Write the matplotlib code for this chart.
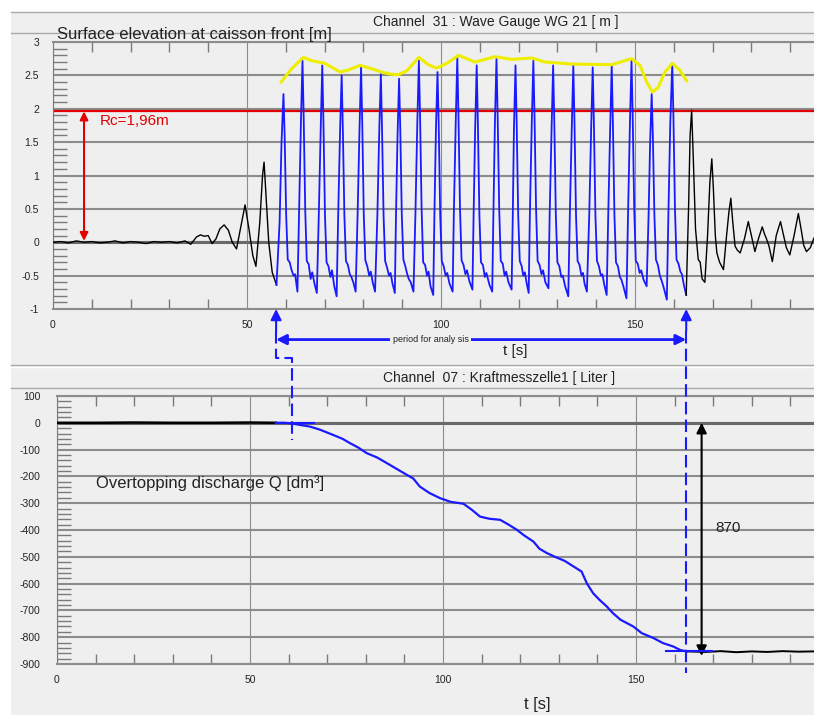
import numpy as np
import matplotlib.pyplot as plt
from matplotlib.lines import Line2D
from matplotlib.patches import Rectangle
from matplotlib.ticker import MultipleLocator, FormatStrFormatter

plt.rcParams['font.family'] = ['Liberation Sans', 'DejaVu Sans']
plt.rcParams['axes.unicode_minus'] = False

W, H = 814, 715

# Channel 31 - wave gauge WG 21, surface elevation [m]
t_pre = [0, 2, 4, 6, 8, 10, 12, 14, 16, 18, 20, 22, 24, 26, 28, 30, 32, 34,
         35.5, 37, 38, 39, 40, 41, 42, 43, 44.1, 45.2, 46.2, 47.3, 48.3,
         49.5, 50.5, 51.5, 52.3, 53.3, 54.0, 54.4, 55.0, 55.6, 56.5, 57.6]
eta_pre = [0.0, 0.01, -0.01, 0.02, 0.0, 0.01, -0.01, 0.0, 0.02, -0.01, 0.01,
           0.0, -0.02, 0.01, 0.0, 0.01, -0.01, 0.02, -0.03, 0.08, 0.11,
           0.09, 0.10, -0.02, 0.05, 0.20, 0.26, 0.18, 0.0, -0.10, 0.20,
           0.56, 0.20, -0.20, -0.36, 0.30, 1.0, 1.20, 0.60, 0.0, -0.45, -0.64]

t_wave = [
    57.6, 58.4, 58.9, 59.4, 59.7, 60.1, 60.5, 61.0, 61.5, 62.0, 62.4,
    63.0, 63.4, 63.9, 64.3, 64.6, 65.0, 65.4, 65.9, 66.4, 66.8, 67.4,
    68.0, 68.5, 69.0, 69.4, 69.7, 70.1, 70.5, 71.0, 71.5, 71.9, 72.5,
    73.1, 73.5, 74.0, 74.4, 74.7, 75.1, 75.5, 76.0, 76.5, 76.9, 77.4,
    78.0, 78.5, 79.0, 79.4, 79.7, 80.1, 80.5, 81.0, 81.5, 81.9, 82.4,
    83.0, 83.6, 84.1, 84.5, 84.8, 85.2, 85.6, 86.1, 86.6, 87.0, 87.5,
    88.1, 88.4, 88.8, 89.2, 89.5, 89.9, 90.3, 90.8, 91.3, 91.7, 92.2,
    92.9, 93.4, 93.9, 94.3, 94.6, 95.0, 95.4, 95.9, 96.4, 96.8, 97.3,
    98.0, 98.3, 98.7, 99.1, 99.4, 99.8, 100.2, 100.7, 101.2, 101.6, 102.2,
    103.0, 103.3, 103.8, 104.2, 104.5, 104.9, 105.3, 105.8, 106.3, 106.7, 107.3,
    108.1, 108.4, 108.8, 109.2, 109.5, 109.9, 110.3, 110.8, 111.3, 111.7, 112.5,
    113.2, 113.5, 113.9, 114.3, 114.6, 115.0, 115.4, 115.9, 116.4, 116.8, 117.4,
    118.2, 118.5, 118.8, 119.2, 119.5, 119.9, 120.3, 120.8, 121.2, 121.6, 122.1,
    122.6, 122.9, 123.4, 123.8, 124.1, 124.5, 124.9, 125.4, 125.9, 126.3, 126.9,
    127.7, 128.0, 128.5, 128.9, 129.2, 129.6, 130.0, 130.5, 131.0, 131.4, 132.0,
    132.8, 133.2, 133.7, 134.1, 134.4, 134.8, 135.2, 135.7, 136.2, 136.6, 137.0,
    137.6, 138.2, 138.7, 139.1, 139.4, 139.8, 140.2, 140.7, 141.2, 141.6, 142.1,
    142.7, 143.1, 143.6, 144.0, 144.3, 144.7, 145.1, 145.6, 146.1, 146.5, 147.1,
    147.8, 148.2, 148.7, 149.1, 149.4, 149.8, 150.2, 150.7, 151.2, 151.6, 152.2,
    153.0, 153.5, 153.9, 154.3, 154.6, 155.0, 155.4, 155.9, 156.4, 156.9, 157.5,
    158.2, 158.6, 159.1, 159.6, 159.9, 160.3, 160.7, 161.2, 161.7, 162.1, 162.6,
    163.2]
eta_wave = [
    -0.64, 0.3, 1.5, 2.22, 1.6, 0.4, -0.26, -0.30, -0.42, -0.50, -0.48,
    -0.74, 0.4, 1.8, 2.72, 1.9, 0.5, -0.28, -0.33, -0.55, -0.45, -0.62,
    -0.76, 0.4, 1.7, 2.65, 1.8, 0.4, -0.30, -0.36, -0.52, -0.42, -0.66,
    -0.81, 0.4, 1.7, 2.50, 1.7, 0.4, -0.28, -0.34, -0.48, -0.52, -0.60,
    -0.74, 0.4, 1.7, 2.62, 1.8, 0.4, -0.27, -0.36, -0.50, -0.44, -0.60,
    -0.74, 0.4, 1.7, 2.52, 1.7, 0.4, -0.28, -0.38, -0.50, -0.46, -0.62,
    -0.76, 0.4, 1.6, 2.45, 1.7, 0.4, -0.26, -0.36, -0.48, -0.55, -0.60,
    -0.74, 0.4, 1.8, 2.72, 1.9, 0.5, -0.30, -0.34, -0.50, -0.44, -0.66,
    -0.79, 0.4, 1.7, 2.55, 1.8, 0.4, -0.28, -0.36, -0.50, -0.46, -0.62,
    -0.74, 0.4, 1.8, 2.77, 1.9, 0.5, -0.27, -0.34, -0.48, -0.42, -0.58,
    -0.71, 0.4, 1.7, 2.65, 1.8, 0.4, -0.30, -0.34, -0.52, -0.46, -0.64,
    -0.74, 0.4, 1.8, 2.75, 1.9, 0.5, -0.28, -0.32, -0.50, -0.44, -0.60,
    -0.71, 0.4, 1.7, 2.65, 1.8, 0.4, -0.28, -0.36, -0.50, -0.45, -0.62,
    -0.76, 0.4, 1.8, 2.72, 1.9, 0.5, -0.28, -0.34, -0.48, -0.42, -0.60,
    -0.69, 0.4, 1.7, 2.65, 1.8, 0.4, -0.30, -0.36, -0.52, -0.50, -0.66,
    -0.81, 0.4, 1.7, 2.65, 1.8, 0.4, -0.28, -0.34, -0.50, -0.46, -0.62,
    -0.74, 0.4, 1.7, 2.62, 1.8, 0.4, -0.28, -0.36, -0.50, -0.48, -0.64,
    -0.79, 0.4, 1.7, 2.65, 1.8, 0.4, -0.30, -0.36, -0.52, -0.56, -0.68,
    -0.84, 0.4, 1.8, 2.72, 1.9, 0.5, -0.28, -0.32, -0.46, -0.42, -0.56,
    -0.66, 0.4, 1.5, 2.22, 1.6, 0.4, -0.26, -0.34, -0.50, -0.58, -0.70,
    -0.86, 0.4, 1.8, 2.67, 1.9, 0.5, -0.26, -0.32, -0.44, -0.48, -0.64,
    -0.79]

t_post = [163.2, 163.8, 164.2, 164.6, 165.0, 165.6, 166.3, 166.8, 167.3,
          168.0, 168.7, 169.3, 169.8, 170.2, 170.7, 171.1, 171.8, 172.8,
          173.6, 174.2, 174.7, 175.2, 175.8, 176.4, 177.1, 178.2, 179.2,
          180.0, 180.9, 181.8, 182.8, 183.4, 183.9, 184.5, 185.4, 186.4,
          187.5, 188.3, 189.0, 189.9, 191.0, 192.1, 192.8, 193.5, 194.2,
          195.2, 196.1]
eta_post = [-0.79, 0.5, 1.6, 1.98, 1.3, 0.2, -0.26, -0.30, -0.55, -0.60,
            0.1, 0.9, 1.25, 0.8, 0.1, -0.16, -0.30, -0.41, 0.1, 0.45, 0.66,
            0.3, -0.06, -0.12, -0.16, 0.05, 0.31, 0.1, -0.14, 0.05, 0.23,
            0.12, 0.05, -0.05, -0.29, 0.1, 0.31, 0.1, -0.08, -0.19, 0.1,
            0.43, 0.2, -0.05, -0.14, -0.08, 0.06]

# crest envelope over the analysed waves
t_env = [58.8, 61.5, 64.5, 66.7, 70.1, 74.0, 76.1, 79.1, 82.1, 84.7, 86.9,
         89.0, 91.2, 94.3, 96.7, 98.9, 101.5, 104.5, 108.8, 113.9, 118.2,
         123.4, 126.8, 133.7, 144.0, 149.1, 151.3, 153.0, 154.5, 156.0,
         157.7, 159.6, 161.5, 163.3]
eta_env = [2.40, 2.60, 2.77, 2.72, 2.68, 2.55, 2.58, 2.65, 2.60, 2.55, 2.52,
           2.51, 2.57, 2.77, 2.66, 2.61, 2.68, 2.80, 2.70, 2.78, 2.74, 2.76,
           2.70, 2.67, 2.66, 2.75, 2.65, 2.40, 2.25, 2.32, 2.55, 2.68, 2.58,
           2.42]

Rc = 1.96

# Channel 07 - Kraftmesszelle1, overtopped volume [dm3]
t_q_pre = [0, 10, 20, 30, 40, 50, 56.7]
q_pre = [0, 0, 1, 0, 0, 1, 0]
t_q = [56.7, 59, 61, 63, 65.5, 68, 71.5, 74, 75.9, 78, 80.2, 83, 85.4, 88,
       90.6, 92.3, 94, 96.5, 99.2, 102, 105.3, 107.5, 109.6, 112, 114.8, 117,
       119.1, 121, 123.4, 125, 126.9, 129, 131.5, 133.8, 135.9, 137.3, 138.9,
       140.5, 142.4, 144, 146, 149.3, 151.5, 154.5, 157, 159.7, 161.5, 163.1]
q = [0, 0, -3, -8, -14, -25, -45, -60, -76, -92, -113, -130, -150, -172,
     -194, -208, -238, -262, -281, -295, -302, -325, -350, -358, -362, -380,
     -399, -420, -443, -470, -486, -500, -515, -536, -555, -600, -636, -660,
     -685, -710, -735, -760, -785, -803, -822, -835, -848, -853]
t_q_post = [163.1, 168, 172, 176, 180, 184, 188, 192, 196]
q_post = [-853, -855, -852, -856, -853, -855, -852, -854, -853]

t_start = 57.5   # begin of period for analysis
t_end = 163.2    # end of period for analysis
t_q0 = 61.0      # begin of overtopping
Q_total = 870

BG = '#efefef'
GRID = '#8c8c8c'
BLUE = '#1a1aff'


def px(x, y):
    return x / W, 1 - y / H


fig = plt.figure(figsize=(W / 100, H / 100), dpi=100, facecolor='white')
fig.add_artist(Rectangle(px(11, 715), (W - 11) / W, (715 - 12) / H,
                         transform=fig.transFigure, facecolor=BG,
                         edgecolor='none', zorder=-10))
for yy, col in [(12, '#a8a8a8'), (33, '#a8a8a8'), (365, '#a8a8a8'),
                (367, 'white'), (388, '#a8a8a8')]:
    fig.add_artist(Line2D([11 / W, 1], [1 - yy / H] * 2, color=col, lw=1,
                          transform=fig.transFigure))

ax1 = fig.add_axes([53 / W, 1 - 309 / H, (W - 53) / W, (309 - 42) / H])
ax2 = fig.add_axes([57 / W, 1 - 664 / H, (W - 57) / W, (664 - 396) / H])


def style(ax, ymaj, ymin, fmt, ypad):
    ax.set_facecolor('none')
    ax.xaxis.set_major_locator(MultipleLocator(50))
    ax.xaxis.set_minor_locator(MultipleLocator(10))
    ax.yaxis.set_major_locator(MultipleLocator(ymaj))
    ax.yaxis.set_minor_locator(MultipleLocator(ymin))
    ax.yaxis.set_major_formatter(FormatStrFormatter(fmt))
    ax.tick_params(axis='x', which='major', length=0, pad=8, labelsize=7.5,
                   labelcolor='#222222')
    ax.tick_params(axis='x', which='minor', direction='in', length=7,
                   width=1, color='#7a7a7a', top=True, bottom=True)
    ax.tick_params(axis='y', which='major', length=0, pad=ypad, labelsize=7.5,
                   labelcolor='#222222')
    ax.tick_params(axis='y', which='minor', direction='in', length=10,
                   width=1, color='#7a7a7a')
    ax.grid(axis='y', which='major', color=GRID, lw=1.5)
    ax.grid(axis='x', which='major', color=GRID, lw=0.8)
    ax.set_axisbelow(True)
    ax.spines['right'].set_visible(False)
    for s in ['top', 'bottom']:
        ax.spines[s].set_color(GRID)
        ax.spines[s].set_linewidth(1.5)
    ax.spines['left'].set_color('#7a7a7a')
    ax.spines['left'].set_linewidth(0.8)
    ax.axhline(0, color='#6a6a6a', lw=2.2, zorder=1)


# surface elevation
style(ax1, 0.5, 0.1, '%g', 10)
ax1.set_xlim(0, (W - 53) / 3.88)
ax1.set_ylim(-1, 3)
ax1.axhline(Rc, color='#e00000', lw=1.6, zorder=2)
ax1.plot(t_pre, eta_pre, color='black', lw=1.0, zorder=3)
ax1.plot(t_wave, eta_wave, color=BLUE, lw=1.3, zorder=3)
ax1.plot(t_post, eta_post, color='black', lw=1.0, zorder=3)
ax1.plot(t_env, eta_env, color='#eeee00', lw=2.2, zorder=4)
ax1.annotate('', xy=(8, Rc), xytext=(8, 0.02),
             arrowprops=dict(arrowstyle='<|-|>', color='#e00000', lw=1.5,
                             mutation_scale=12, shrinkA=0, shrinkB=0))
ax1.text(12.1, 1.82, 'Rc=1,96m', color='#e00000', fontsize=11, va='center')

# overtopped volume
style(ax2, 100, 20, '%g', 12)
ax2.set_xlim(0, (W - 57) / 3.86)
ax2.set_ylim(-900, 100)
ax2.plot(t_q_pre, q_pre, color='black', lw=1.8, zorder=3)
ax2.plot(t_q, q, color=BLUE, lw=1.6, zorder=3)
ax2.plot(t_q_post, q_post, color='black', lw=1.4, zorder=3)
ax2.plot([56.7, 66.5], [0, 0], color=BLUE, lw=1.5, zorder=4)
ax2.plot([157.7, 169.6], [q_post[0]] * 2, color=BLUE, lw=1.5, zorder=4)
ax2.annotate('', xy=(167, -Q_total), xytext=(167, 0),
             arrowprops=dict(arrowstyle='<|-|>', color='black', lw=1.5,
                             mutation_scale=15, shrinkA=0, shrinkB=0))
ax2.text(170.5, -392, str(Q_total), fontsize=11, va='center', color='#222222')
ax2.text(10.2, -224, 'Overtopping discharge Q [dm³]', fontsize=12,
         va='center', color='#222222')

# period for analysis markers
y_arrow = -1.458
for tt in (t_start, t_end):
    ax1.annotate('', xy=(tt, -1.0), xytext=(tt, -1.33), annotation_clip=False,
                 arrowprops=dict(arrowstyle='-|>', color=BLUE, lw=1.5,
                                 mutation_scale=16, shrinkA=0, shrinkB=0))
ax1.annotate('', xy=(t_start, y_arrow), xytext=(t_end, y_arrow),
             annotation_clip=False,
             arrowprops=dict(arrowstyle='<|-|>', color=BLUE, lw=2,
                             mutation_scale=15, shrinkA=0, shrinkB=0))
ax1.text((t_start + t_end) / 2 - 13, y_arrow, 'period for analy sis',
         fontsize=6.5, ha='center', va='center', color='#222222',
         bbox=dict(facecolor=BG, edgecolor='none', pad=2), zorder=6,
         clip_on=False)


def to_fig(ax, x, y):
    return fig.transFigure.inverted().transform(ax.transData.transform((x, y)))


# dashed guides running from the wave record down into the volume record
step_y = -1.727
a = to_fig(ax1, t_start, -1.33)
b = to_fig(ax1, t_start, step_y)
c = to_fig(ax2, t_q0, 0)
d = to_fig(ax2, t_q0, -63)
e = to_fig(ax1, t_end, -1.33)
f = to_fig(ax2, t_end, -935)
dash = dict(color=BLUE, lw=1.5, linestyle=(0, (6, 2.5)),
            transform=fig.transFigure, zorder=5)
fig.add_artist(Line2D([a[0], b[0], c[0], d[0]], [a[1], b[1], b[1], d[1]],
                      **dash))
fig.add_artist(Line2D([e[0], e[0]], [e[1], f[1]], **dash))

# headers and axis titles
fig.text(*px(496, 22), 'Channel  31 : Wave Gauge WG 21 [ m ]', fontsize=10,
         ha='center', va='center', color='#222222')
fig.text(*px(57, 34), 'Surface elevation at caisson front [m]', fontsize=12,
         ha='left', va='center', color='#222222')
fig.text(*px(499, 378), 'Channel  07 : Kraftmesszelle1 [ Liter ]',
         fontsize=10, ha='center', va='center', color='#222222')
fig.text(*px(515, 351), 't [s]', fontsize=11, ha='center', va='center',
         color='#222222')
fig.text(*px(537, 704), 't [s]', fontsize=12, ha='center', va='center',
         color='#222222')

fig.savefig('out.png', dpi=100, facecolor=fig.get_facecolor())
